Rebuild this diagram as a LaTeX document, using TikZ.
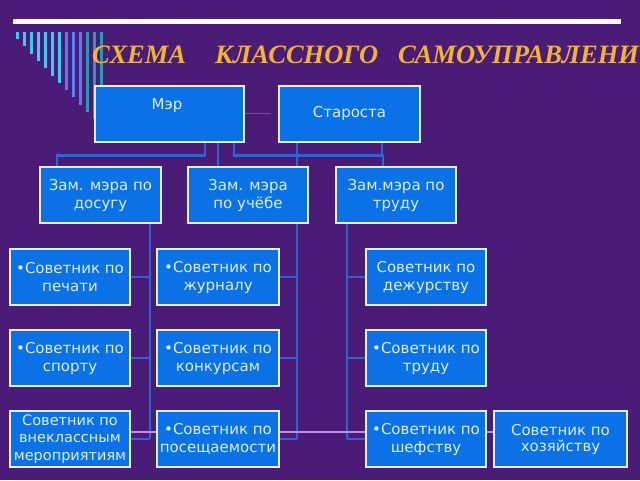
\documentclass[tikz,border=0pt]{standalone}
\usepackage{fontspec}
\setmainfont{DejaVu Sans}
\newfontfamily\titlefont{Liberation Serif}
\definecolor{bgpurple}{HTML}{4A1C78}
\definecolor{boxblue}{HTML}{0A72E6}
\definecolor{boxline}{HTML}{E6EEF8}
\definecolor{connblue}{HTML}{2F62D2}
\definecolor{lavline}{HTML}{C08EE6}
\definecolor{titlegold}{HTML}{F0B432}
\definecolor{txtcol}{HTML}{DDEEFF}
\definecolor{stripeA}{HTML}{3CCBF0}
\definecolor{stripeB}{HTML}{5A7CF2}
\definecolor{stripeC}{HTML}{2A9AAE}
\pgfdeclarelayer{bglayer}
\pgfdeclarelayer{linelayer}
\pgfsetlayers{bglayer,linelayer,main}
\begin{document}
\begin{tikzpicture}[x=1pt,y=-1pt,
  box/.style={draw=boxline, line width=2pt, fill=boxblue, text=txtcol, align=center,
    font=\fontsize{15}{18}\selectfont, inner sep=0pt, minimum height=56pt},
  boxtext/.style={text=txtcol, align=center, font=\fontsize{15}{18}\selectfont, inner sep=0pt},
  conn/.style={draw=connblue, line width=2.3pt},
  thinconn/.style={draw=connblue, line width=1.4pt},
  lavconn/.style={draw=lavline, line width=2.2pt},
  titleword/.style={text=titlegold, inner sep=0pt, anchor=base west,
    font=\titlefont\bfseries\itshape\fontsize{26.5}{30}\selectfont},
  stripe/.style={line width=3pt}
]
\useasboundingbox (0,0) rectangle (640,480);
\begin{pgfonlayer}{bglayer}
  \fill[bgpurple] (0,0) rectangle (640,480);
  \fill[white] (13,19) rectangle (621,24);
  \foreach \i in {0,...,6} {\draw[stripe, stripeA] (17+7*\i,32) -- (17+7*\i,39+7.3*\i);}
  \foreach \i in {7,8,9} {\draw[stripe, stripeB] (17+7*\i,32) -- (17+7*\i,39+7.3*\i);}
  \foreach \i in {10,11,12} {\draw[stripe, stripeC] (17+7*\i,32) -- (17+7*\i,39+7.3*\i);}
\end{pgfonlayer}

% title
\node[titleword] (t1) at (92,63) {СХЕМА};
\node[titleword] (t2) at (215,63) {КЛАССНОГО};
\node[titleword] (t3) at (398,63) {САМОУПРАВЛЕНИ};

% top row
\node[box, minimum width=149pt] (mer) at (169.5,113.5) {};
\node[boxtext] (mert) at (167,106) {Мэр};
\node[box, minimum width=141pt] (star) at (349.5,113.5) {Староста};

% deputies
\node[box, minimum width=121pt] (z1) at (100.5,195) {Зам. мэра по\\досугу};
\node[box, minimum width=120pt] (z2) at (248,195) {Зам. мэра\\по учёбе};
\node[box, minimum width=120pt] (z3) at (396,195) {Зам.мэра по\\труду};

% advisers
\node[box, minimum width=120pt] (a1) at (70,277) {•Советник по\\печати};
\node[box, minimum width=122pt] (b1) at (218,277) {•Советник по\\журналу};
\node[box, minimum width=120pt] (c1) at (426,277) {Советник по\\дежурству};

\node[box, minimum width=120pt] (a2) at (70,358) {•Советник по\\спорту};
\node[box, minimum width=122pt] (b2) at (218,358) {•Советник по\\конкурсам};
\node[box, minimum width=120pt] (c2) at (426,358) {•Советник по\\труду};

\node[box, minimum width=120pt, font=\fontsize{14.5}{17.5}\selectfont] (a3) at (70,439) {Советник по\\внеклассным\\мероприятиям};
\node[box, minimum width=122pt] (b3) at (218,439) {•Советник по\\посещаемости};
\node[box, minimum width=120pt] (c3) at (426,439) {•Советник по\\шефству};
\node[box, minimum width=133pt, font=\fontsize{15}{16}\selectfont] (d3) at (560.5,439) {Советник по\\хозяйству};

\begin{pgfonlayer}{linelayer}
  \draw[thinconn] (mer.east) -- ++(26,0);
  \draw[conn] ([xshift=35.5pt]mer.south) -- ++(0,13) -| ([xshift=-43.5pt]z1.north);
  \draw[conn] ([xshift=48.5pt]mer.south) -- ([xshift=-30pt]z2.north);
  \draw[conn] ([xshift=64.5pt]mer.south) -- ++(0,13) -| ([xshift=-13pt]z3.north);
  \draw[conn] ([xshift=-52.5pt]star.south) -- ([xshift=49pt]z2.north);
  \draw[conn] ([xshift=32.5pt]star.south) -- ++(0,13);

  \coordinate (s1) at ([xshift=49.5pt]z1.south);
  \coordinate (s2) at ([xshift=49pt]z2.south);
  \coordinate (s3) at ([xshift=-49pt]z3.south);
  \draw[conn] (s1) -- (s1 |- a3.east);
  \draw[conn] (s2) -- (s2 |- b3.east);
  \draw[conn] (s3) -- (s3 |- c3.west);
  \draw[conn] (a1.east) -- (a1.east -| s1);
  \draw[conn] (a2.east) -- (a2.east -| s1);
  \draw[conn] (a3.east) -- (a3.east -| s1);
  \draw[conn] (b1.east) -- (b1.east -| s2);
  \draw[conn] (b2.east) -- (b2.east -| s2);
  \draw[conn] (b3.east) -- (b3.east -| s2);
  \draw[conn] (c1.west) -- (c1.west -| s3);
  \draw[conn] (c2.west) -- (c2.west -| s3);
  \draw[conn] (c3.west) -- (c3.west -| s3);
  \draw[lavconn] ([yshift=7pt]a3.east) -- ([yshift=7pt]d3.west);
\end{pgfonlayer}
\end{tikzpicture}
\end{document}
